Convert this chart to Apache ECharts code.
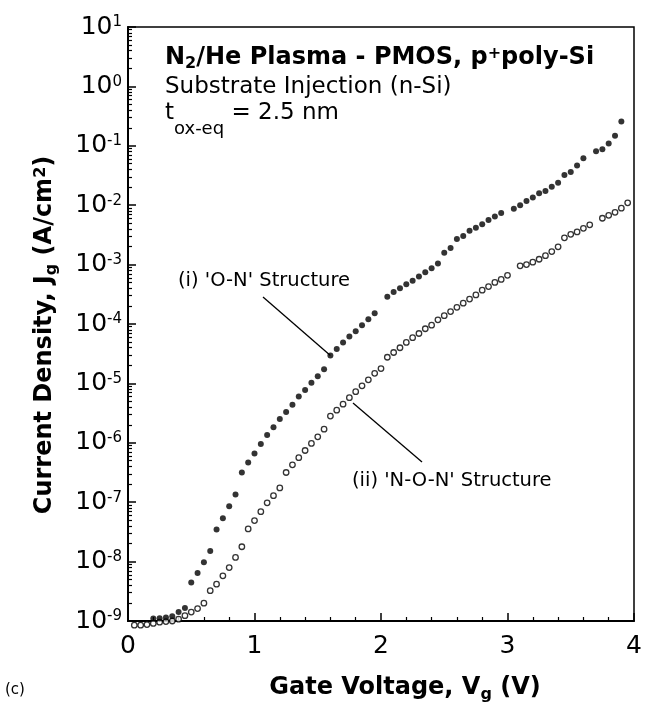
<!DOCTYPE html>
<html><head><meta charset="utf-8">
<script src="https://cdn.jsdelivr.net/npm/echarts@6/dist/echarts.min.js"></script>
<style>html,body{margin:0;padding:0;background:#fff}#c{width:649px;height:710px}</style>
</head><body><div id="c"></div>
<script>
const FONT = '"DejaVu Sans", sans-serif';

// x tick labels (V) and y decades (exponent of 10)
const xTickLabels = ['0', '1', '2', '3', '4'];
const yDecades = [-9, -8, -7, -6, -5, -4, -3, -2, -1, 0, 1];

// (i) 'O-N' structure (filled dots): gate voltage [V] and log10(Jg [A/cm^2])
const vgON = [0.20,0.25,0.30,0.35,0.40,0.45,0.50,0.55,0.60,0.65,0.70,0.75,0.80,0.85,0.90,0.95,1.00,1.05,1.10,1.15,
  1.20,1.25,1.30,1.35,1.40,1.45,1.50,1.55,1.60,1.65,1.70,1.75,1.80,1.85,1.90,1.95,
  2.05,2.10,2.15,2.20,2.25,2.30,2.35,2.40,2.45,2.50,2.55,2.60,2.65,2.70,2.75,2.80,2.85,2.90,2.95,
  3.05,3.10,3.15,3.20,3.25,3.30,3.35,3.40,3.45,3.50,3.55,3.60,
  3.70,3.75,3.80,3.85,3.90];
const logJON = [-8.96,-8.955,-8.94,-8.92,-8.85,-8.78,-8.35,-8.19,-8.01,-7.82,-7.46,-7.27,-7.07,-6.87,-6.50,-6.33,-6.18,-6.02,-5.87,-5.74,
  -5.60,-5.48,-5.36,-5.22,-5.11,-4.99,-4.88,-4.76,-4.53,-4.42,-4.31,-4.21,-4.12,-4.02,-3.92,-3.82,
  -3.54,-3.46,-3.40,-3.33,-3.27,-3.20,-3.13,-3.06,-2.98,-2.80,-2.72,-2.57,-2.52,-2.43,-2.38,-2.32,-2.25,-2.19,-2.13,
  -2.06,-2.00,-1.93,-1.87,-1.80,-1.76,-1.69,-1.62,-1.49,-1.44,-1.33,-1.21,
  -1.09,-1.06,-0.96,-0.83,-0.59];

// (ii) 'N-O-N' structure (open circles)
const vgNON = [0.05,0.10,0.15,0.20,0.25,0.30,0.35,0.40,0.45,0.50,0.55,0.60,0.65,0.70,0.75,0.80,0.85,0.90,0.95,1.00,
  1.05,1.10,1.15,1.20,1.25,1.30,1.35,1.40,1.45,1.50,1.55,1.60,1.65,1.70,1.75,1.80,1.85,1.90,1.95,2.00,
  2.05,2.10,2.15,2.20,2.25,2.30,2.35,2.40,2.45,2.50,2.55,2.60,2.65,2.70,2.75,2.80,2.85,2.90,2.95,3.00,
  3.10,3.15,3.20,3.25,3.30,3.35,3.40,3.45,3.50,3.55,3.60,3.65,
  3.75,3.80,3.85,3.90,3.95];
const logJNON = [-9.07,-9.07,-9.06,-9.04,-9.02,-9.01,-9.00,-8.97,-8.91,-8.85,-8.79,-8.70,-8.49,-8.38,-8.24,-8.10,-7.93,-7.75,-7.45,-7.31,
  -7.16,-7.01,-6.89,-6.76,-6.50,-6.37,-6.25,-6.13,-6.01,-5.90,-5.77,-5.55,-5.45,-5.35,-5.24,-5.14,-5.04,-4.94,-4.83,-4.75,
  -4.56,-4.48,-4.40,-4.31,-4.23,-4.16,-4.08,-4.02,-3.93,-3.86,-3.79,-3.72,-3.65,-3.58,-3.51,-3.43,-3.37,-3.30,-3.25,-3.18,
  -3.02,-3.00,-2.96,-2.91,-2.85,-2.78,-2.70,-2.55,-2.49,-2.45,-2.39,-2.33,
  -2.22,-2.17,-2.12,-2.05,-1.96];

// point the "(i)" leader line ends on
const leaderON = [1.60, -4.53];

const dataON = vgON.map((v, i) => [v, Math.pow(10, logJON[i])]);
const dataNON = vgNON.map((v, i) => [v, Math.pow(10, logJNON[i])]);
const minorY = [];
yDecades.slice(0, -1).forEach(e => { for (let k = 2; k <= 9; k++) minorY.push(parseFloat(k + 'e' + e)); });

const chart = echarts.init(document.getElementById('c'));
const yMin = Math.pow(10, yDecades[0]), yMax = Math.pow(10, yDecades[yDecades.length - 1]);

chart.setOption({
  backgroundColor: '#fff',
  animation: false,
  grid: { left: 128, top: 27, right: 15, bottom: 89, show: true, borderColor: '#000', borderWidth: 1.5, backgroundColor: 'transparent' },
  xAxis: {
    type: 'value', min: 0, max: 4, interval: 1,
    axisLine: { show: true, lineStyle: { color: '#000', width: 2 } },
    axisTick: { show: true, inside: true, length: 8, lineStyle: { color: '#000', width: 1.5 } },
    minorTick: { show: true, splitNumber: 5, length: 4, lineStyle: { color: '#000', width: 1.2 } },
    splitLine: { show: false },
    axisLabel: { color: '#000', fontFamily: FONT, fontSize: 25, margin: 13,
      formatter: v => xTickLabels[Math.round(v)] }
  },
  yAxis: [{
    type: 'log', logBase: 10, min: yMin, max: yMax, interval: 1,
    axisLine: { show: true, lineStyle: { color: '#000', width: 2 } },
    axisTick: { show: true, inside: true, length: 8, lineStyle: { color: '#000', width: 1.5 } },
    splitLine: { show: false },
    axisLabel: { margin: 6,
      formatter: v => '{b|10}{s|' + Math.round(Math.log10(v)) + '}',
      rich: {
        b: { fontFamily: FONT, fontSize: 25, lineHeight: 28, color: '#000' },
        s: { fontFamily: FONT, fontSize: 15, lineHeight: 28, color: '#000', padding: [0, 0, 9, 0] }
      } }
  }, {
    type: 'log', logBase: 10, min: yMin, max: yMax, position: 'left',
    axisLine: { show: false }, axisLabel: { show: false }, splitLine: { show: false },
    axisTick: { show: true, inside: true, length: 4, customValues: minorY, lineStyle: { color: '#000', width: 1.2 } }
  }],
  series: [{
    name: "(ii) 'N-O-N' Structure", type: 'scatter', data: dataNON, clip: false,
    symbol: 'circle', symbolSize: 5.5,
    itemStyle: { color: '#fff', borderColor: '#000', borderWidth: 1.3 }
  }, {
    name: "(i) 'O-N' Structure", type: 'scatter', data: dataON, clip: false,
    symbol: 'circle', symbolSize: 6,
    itemStyle: { color: '#000' }
  }]
});

const endI = chart.convertToPixel({ seriesIndex: 1 }, [leaderON[0], Math.pow(10, leaderON[1])]);
const bold = (size, pad) => ({ fontFamily: FONT, fontWeight: 'bold', fontSize: size, lineHeight: 28, color: '#000', verticalAlign: 'middle', padding: pad || [0, 0, 0, 0] });
const reg = (size, pad) => ({ fontFamily: FONT, fontSize: size, lineHeight: 28, color: '#000', verticalAlign: 'middle', padding: pad || [0, 0, 0, 0] });

chart.setOption({
  graphic: [
    { type: 'text', x: 165, y: 58, style: { text: '{b|N}{bs|2}{b|/He Plasma - PMOS, p}{bp|+}{b|poly-Si}', lineHeight: 28, verticalAlign: 'middle', align: 'left',
      rich: { b: bold(24), bs: bold(16, [11, 0, 0, 0]), bp: bold(16, [0, 0, 9, 0]) } } },
    { type: 'text', x: 165, y: 87, style: { text: 'Substrate Injection (n-Si)', fontFamily: FONT, fontSize: 23, fill: '#000', verticalAlign: 'middle', align: 'left' } },
    { type: 'text', x: 165, y: 113, style: { text: '{r|t}{rs|ox-eq}{r| = 2.5 nm}', lineHeight: 28, verticalAlign: 'middle', align: 'left',
      rich: { r: reg(23), rs: reg(18, [33, 0, 0, 0]) } } },
    { type: 'text', x: 178, y: 281, style: { text: "(i) 'O-N' Structure", fontFamily: FONT, fontSize: 19.5, fill: '#000', verticalAlign: 'middle', align: 'left' } },
    { type: 'text', x: 352, y: 481, style: { text: "(ii) 'N-O-N' Structure", fontFamily: FONT, fontSize: 19.5, fill: '#000', verticalAlign: 'middle', align: 'left' } },
    { type: 'line', shape: { x1: 263, y1: 297, x2: endI[0], y2: endI[1] }, style: { stroke: '#000', lineWidth: 1.3 } },
    { type: 'line', shape: { x1: 353, y1: 403, x2: 422, y2: 462 }, style: { stroke: '#000', lineWidth: 1.3 } },
    { type: 'text', x: 405, y: 688, style: { text: '{b|Gate Voltage, V}{bs|g}{b| (V)}', lineHeight: 28, verticalAlign: 'middle', align: 'center',
      rich: { b: bold(24), bs: bold(16, [14, 0, 0, 0]) } } },
    { type: 'text', x: 45, y: 335, rotation: Math.PI / 2, style: { text: '{b|Current Density, J}{bs|g}{b| (A/cm}{bp|2}{b|)}', lineHeight: 28, verticalAlign: 'middle', align: 'center',
      rich: { b: bold(24), bs: bold(16, [14, 0, 0, 0]), bp: bold(16, [0, 0, 9, 0]) } } },
    { type: 'text', x: 5, y: 690, style: { text: '(c)', fontFamily: FONT, fontSize: 15, fill: '#000', verticalAlign: 'middle', align: 'left' } }
  ]
});
</script></body></html>
